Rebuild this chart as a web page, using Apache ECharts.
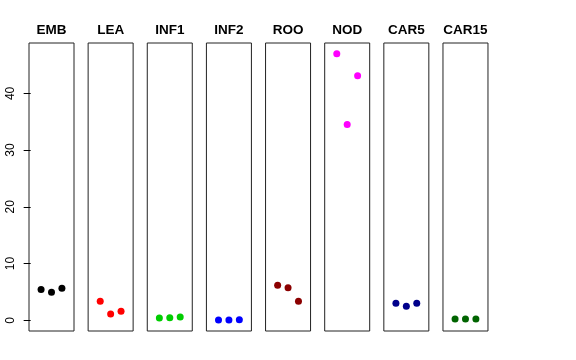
<!DOCTYPE html>
<html><head><meta charset="utf-8">
<script src="https://cdn.jsdelivr.net/npm/echarts@6/dist/echarts.min.js"></script>
<style>html,body{margin:0;padding:0;background:#fff}#c{width:576px;height:360px}</style>
</head><body><div id="c"></div>
<script>
var panels = ['EMB','LEA','INF1','INF2','ROO','NOD','CAR5','CAR15'];
var colors = ['#000000','#FF0000','#00CD00','#0000FF','#8B0000','#FF00FF','#00008B','#006400'];
var xPos = [1, 2, 3];
var EMB = [5.42, 4.94, 5.65];
var LEA = [3.35, 1.12, 1.59];
var INF1 = [0.41, 0.47, 0.59];
var INF2 = [0.06, 0.06, 0.12];
var ROO = [6.18, 5.76, 3.35];
var NOD = [47.0, 34.5, 43.1];
var CAR5 = [3.0, 2.47, 3.0];
var CAR15 = [0.24, 0.24, 0.24];
var yTicks = [0, 10, 20, 30, 40];
var values = [EMB, LEA, INF1, INF2, ROO, NOD, CAR5, CAR15];

var grids = [], xAxes = [], yAxes = [], series = [];
var yMin = -1.88, yMax = 48.88;
for (var i = 0; i < panels.length; i++) {
  grids.push({left: 29 + i * 59.14, width: 45, top: 43, height: 288,
    show: true, borderColor: '#222', borderWidth: 1, backgroundColor: 'transparent'});
  xAxes.push({type: 'value', gridIndex: i, min: -0.16, max: 4.16, position: 'top',
    name: panels[i], nameLocation: 'middle', nameGap: 6,
    nameTextStyle: {fontFamily: 'Liberation Sans', fontWeight: 'bold', fontSize: 13.5, color: '#000'},
    axisLine: {show: false}, axisTick: {show: false}, axisLabel: {show: false}, splitLine: {show: false}});
  yAxes.push({type: 'value', gridIndex: i, min: yMin, max: yMax,
    axisLine: {show: false},
    axisTick: {show: i === 0, length: 7, inside: false, customValues: yTicks, lineStyle: {color: '#000'}},
    axisLabel: {show: i === 0, customValues: yTicks, rotate: 90, margin: 12,
      fontFamily: 'Liberation Sans', fontSize: 12, color: '#000'},
    splitLine: {show: false}});
  series.push({type: 'scatter', xAxisIndex: i, yAxisIndex: i, symbol: 'circle', symbolSize: 7,
    itemStyle: {color: colors[i], opacity: 1},
    data: xPos.map(function (x, j) { return [x, values[i][j]]; })});
}
var chart = echarts.init(document.getElementById('c'), null, {renderer: 'canvas'});
chart.setOption({animation: false, backgroundColor: '#fff', grid: grids, xAxis: xAxes, yAxis: yAxes, series: series});
</script></body></html>
